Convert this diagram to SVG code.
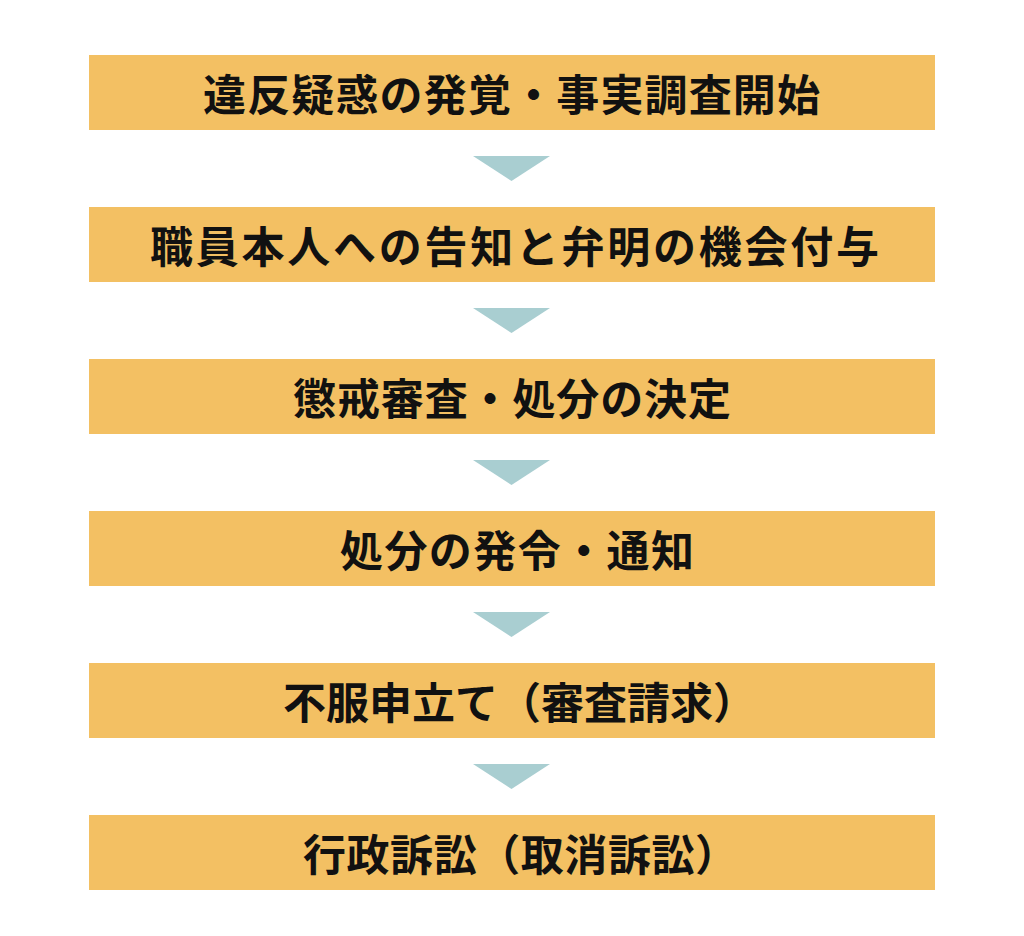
<svg xmlns="http://www.w3.org/2000/svg" width="1024" height="936" viewBox="0 0 1024 936">
<style>
.box{fill:#F3C063}
.arr{fill:#A9CED1}
.t{font-family:"Noto Sans CJK JP","Noto Sans CJK SC",sans-serif;font-weight:700;font-size:43px;fill:#111;dominant-baseline:central}
</style>
<rect width="1024" height="936" fill="#fff"/>
<g id="connectors">
<polygon class="arr" points="473,156 550,156 511.5,181"/>
<polygon class="arr" points="473,308 550,308 511.5,333"/>
<polygon class="arr" points="473,460 550,460 511.5,485"/>
<polygon class="arr" points="473,612 550,612 511.5,637"/>
<polygon class="arr" points="473,764 550,764 511.5,789"/>
</g>
<g id="n1"><rect class="box" x="89" y="55" width="846" height="75"/><text class="t" x="203" y="92" textLength="617" lengthAdjust="spacing">違反疑惑の発覚・事実調査開始</text></g>
<g id="n2"><rect class="box" x="89" y="207" width="846" height="75"/><text class="t" x="150" y="244" textLength="729" lengthAdjust="spacing">職員本人への告知と弁明の機会付与</text></g>
<g id="n3"><rect class="box" x="89" y="359" width="846" height="75"/><text class="t" x="293" y="396" textLength="438" lengthAdjust="spacing">懲戒審査・処分の決定</text></g>
<g id="n4"><rect class="box" x="89" y="511" width="846" height="75"/><text class="t" x="340" y="548" textLength="354" lengthAdjust="spacing">処分の発令・通知</text></g>
<g id="n5"><rect class="box" x="89" y="663" width="846" height="75"/><text class="t" x="283" y="700" textLength="473" lengthAdjust="spacing">不服申立て（審査請求）</text></g>
<g id="n6"><rect class="box" x="89" y="815" width="846" height="75"/><text class="t" x="303" y="852" textLength="435" lengthAdjust="spacing">行政訴訟（取消訴訟）</text></g>
</svg>
